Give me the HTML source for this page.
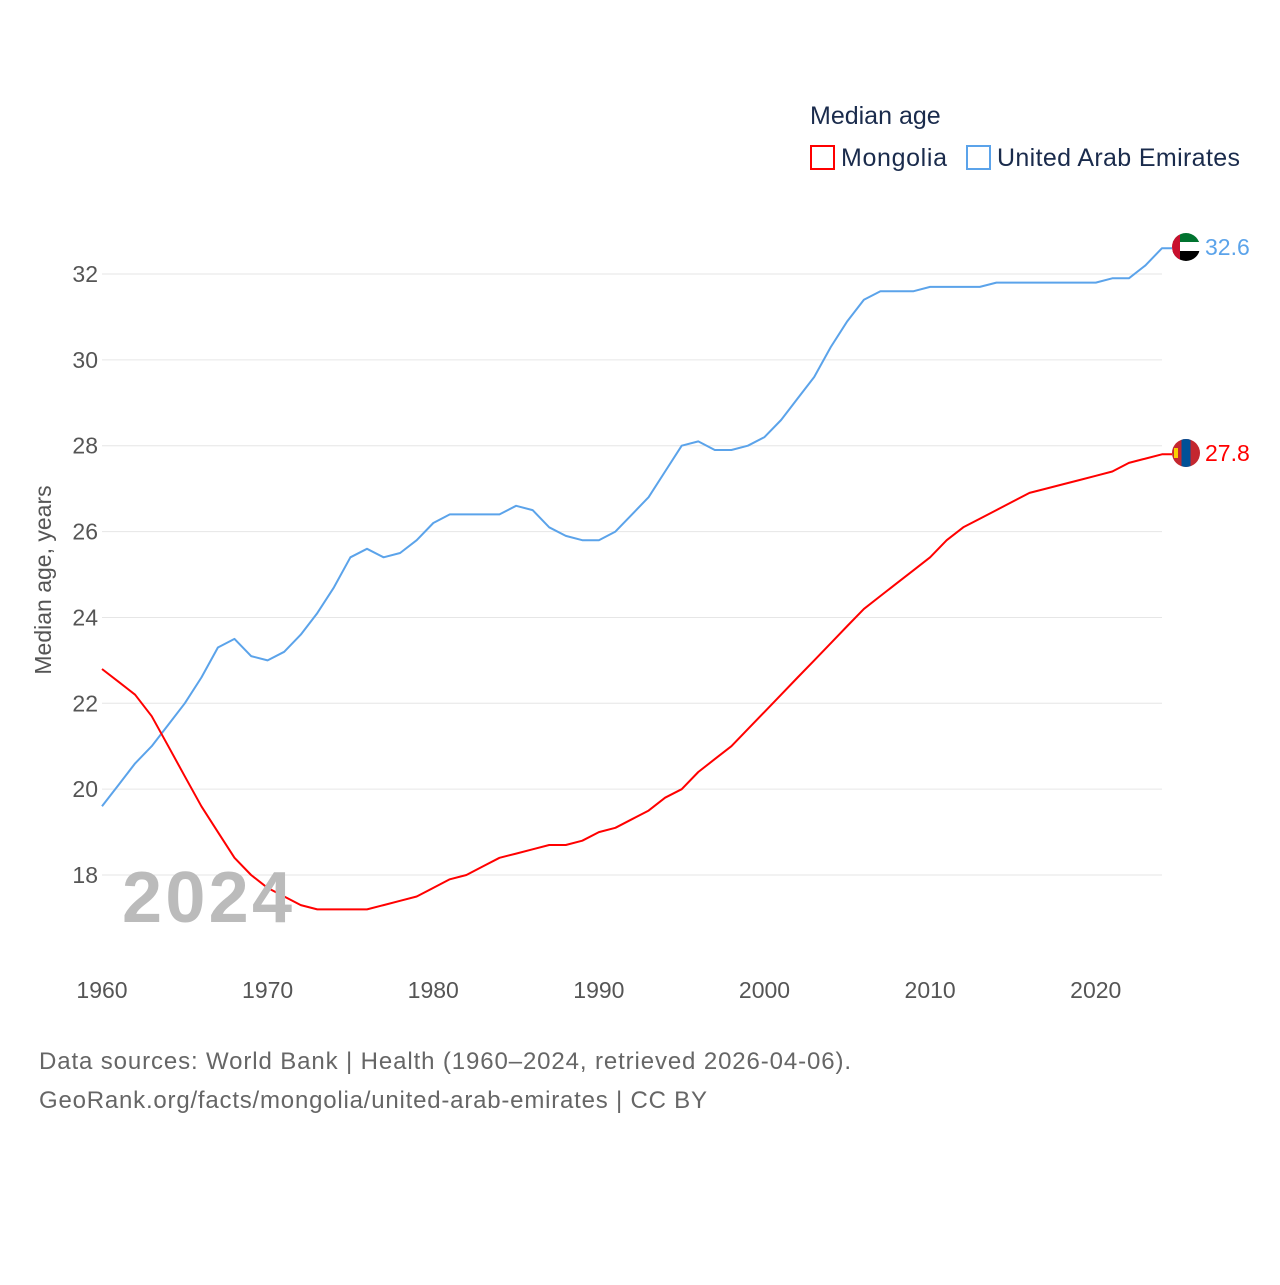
<!DOCTYPE html>
<html><head><meta charset="utf-8"><style>
body{margin:0;background:#fff;font-family:"Liberation Sans",sans-serif;}
svg text{font-family:"Liberation Sans",sans-serif;}
</style></head><body>
<svg id="chart" width="1280" height="1280" viewBox="0 0 1280 1280" xmlns="http://www.w3.org/2000/svg">
<text x="810" y="124" font-size="25" fill="#1a2b4c">Median age</text>
<g>
<rect x="811" y="146" width="23" height="23" fill="none" stroke="#ff0000" stroke-width="2"/>
<text x="841" y="166" font-size="25" fill="#1a2b4c" textLength="106">Mongolia</text></g>
<g>
<rect x="967" y="146" width="23" height="23" fill="none" stroke="#5ba3ea" stroke-width="2"/>
<text x="997" y="166" font-size="25" fill="#1a2b4c" textLength="243">United Arab Emirates</text></g>
<g id="grid"></g><g id="yticks"></g><g id="xticks"></g><g id="lines"></g>
<text transform="translate(51,580) rotate(-90)" text-anchor="middle" font-size="23" fill="#555">Median age, years</text>
<text x="122" y="922" font-size="72" font-weight="bold" fill="#bbb" textLength="170">2024</text>
<g>
<clipPath id="cu"><circle cx="1186" cy="247" r="14"/></clipPath>
<g clip-path="url(#cu)"><rect x="1172" y="233" width="28" height="9.3" fill="#00732f"/><rect x="1172" y="242" width="28" height="9.4" fill="#fff"/><rect x="1172" y="251" width="28" height="10" fill="#000"/><rect x="1172" y="233" width="8" height="28" fill="#c8102e"/></g>
<text x="1205" y="255" font-size="23" fill="#5ba3ea">32.6</text></g>
<g>
<clipPath id="cm"><circle cx="1186" cy="453" r="14"/></clipPath>
<g clip-path="url(#cm)"><rect x="1172" y="439" width="28" height="28" fill="#c4272f"/><rect x="1181.5" y="439" width="9" height="28" fill="#015197"/><rect x="1174" y="448" width="4" height="10" fill="#f9cf02"/></g>
<text x="1205" y="461" font-size="23" fill="#ff0000">27.8</text></g>
<text x="39" y="1069" font-size="24" fill="#666" textLength="812">Data sources: World Bank | Health (1960–2024, retrieved 2026-04-06).</text>
<text x="39" y="1108" font-size="24" fill="#666" textLength="668">GeoRank.org/facts/mongolia/united-arab-emirates | CC BY</text>
</svg>
<script>
const years=[];for(let y=1960;y<=2024;y++)years.push(y);
const uae=[19.6,20.1,20.6,21.0,21.5,22.0,22.6,23.3,23.5,23.1,23.0,23.2,23.6,24.1,24.7,25.4,25.6,25.4,25.5,25.8,26.2,26.4,26.4,26.4,26.4,26.6,26.5,26.1,25.9,25.8,25.8,26.0,26.4,26.8,27.4,28.0,28.1,27.9,27.9,28.0,28.2,28.6,29.1,29.6,30.3,30.9,31.4,31.6,31.6,31.6,31.7,31.7,31.7,31.7,31.8,31.8,31.8,31.8,31.8,31.8,31.8,31.9,31.9,32.2,32.6];
const mongolia=[22.8,22.5,22.2,21.7,21.0,20.3,19.6,19.0,18.4,18.0,17.7,17.5,17.3,17.2,17.2,17.2,17.2,17.3,17.4,17.5,17.7,17.9,18.0,18.2,18.4,18.5,18.6,18.7,18.7,18.8,19.0,19.1,19.3,19.5,19.8,20.0,20.4,20.7,21.0,21.4,21.8,22.2,22.6,23.0,23.4,23.8,24.2,24.5,24.8,25.1,25.4,25.8,26.1,26.3,26.5,26.7,26.9,27.0,27.1,27.2,27.3,27.4,27.6,27.7,27.8];
const yTicks=[18,20,22,24,26,28,30,32];
const xTicks=[1960,1970,1980,1990,2000,2010,2020];
const NS="http://www.w3.org/2000/svg";
const xs=y=>102+(y-1960)*16.5625;
const ys=v=>274+(32-v)*42.93;
function mk(t,a,p){const e=document.createElementNS(NS,t);for(const k in a)e.setAttribute(k,a[k]);p.appendChild(e);return e;}
const grid=document.getElementById('grid'),yt=document.getElementById('yticks'),xt=document.getElementById('xticks'),lines=document.getElementById('lines');
yTicks.forEach(v=>{
const l=mk('line',{x1:102,x2:1162,y1:ys(v),y2:ys(v),stroke:'#e6e6e6','stroke-width':1},grid);


const t=mk('text',{x:98,y:ys(v)+8,'text-anchor':'end','font-size':23,fill:'#555'},yt);t.textContent=v;


});
xTicks.forEach(v=>{
const t=mk('text',{x:xs(v),y:998,'text-anchor':'middle','font-size':23,fill:'#555'},xt);t.textContent=v;


});
function line(data,color,name){
const n=data.length-1;
const d=data.map((v,i)=>(i?'L':'M')+xs(years[i]).toFixed(1)+','+ys(v).toFixed(1)).join('')+'L'+(xs(years[n])+10).toFixed(1)+','+ys(data[n]).toFixed(1);
const p=mk('path',{d:d,fill:'none',stroke:color,'stroke-width':2,'stroke-linejoin':'round'},lines);


}
line(uae,'#5ba3ea','line-uae');
line(mongolia,'#ff0000','line-mongolia');
</script>
</body></html>
